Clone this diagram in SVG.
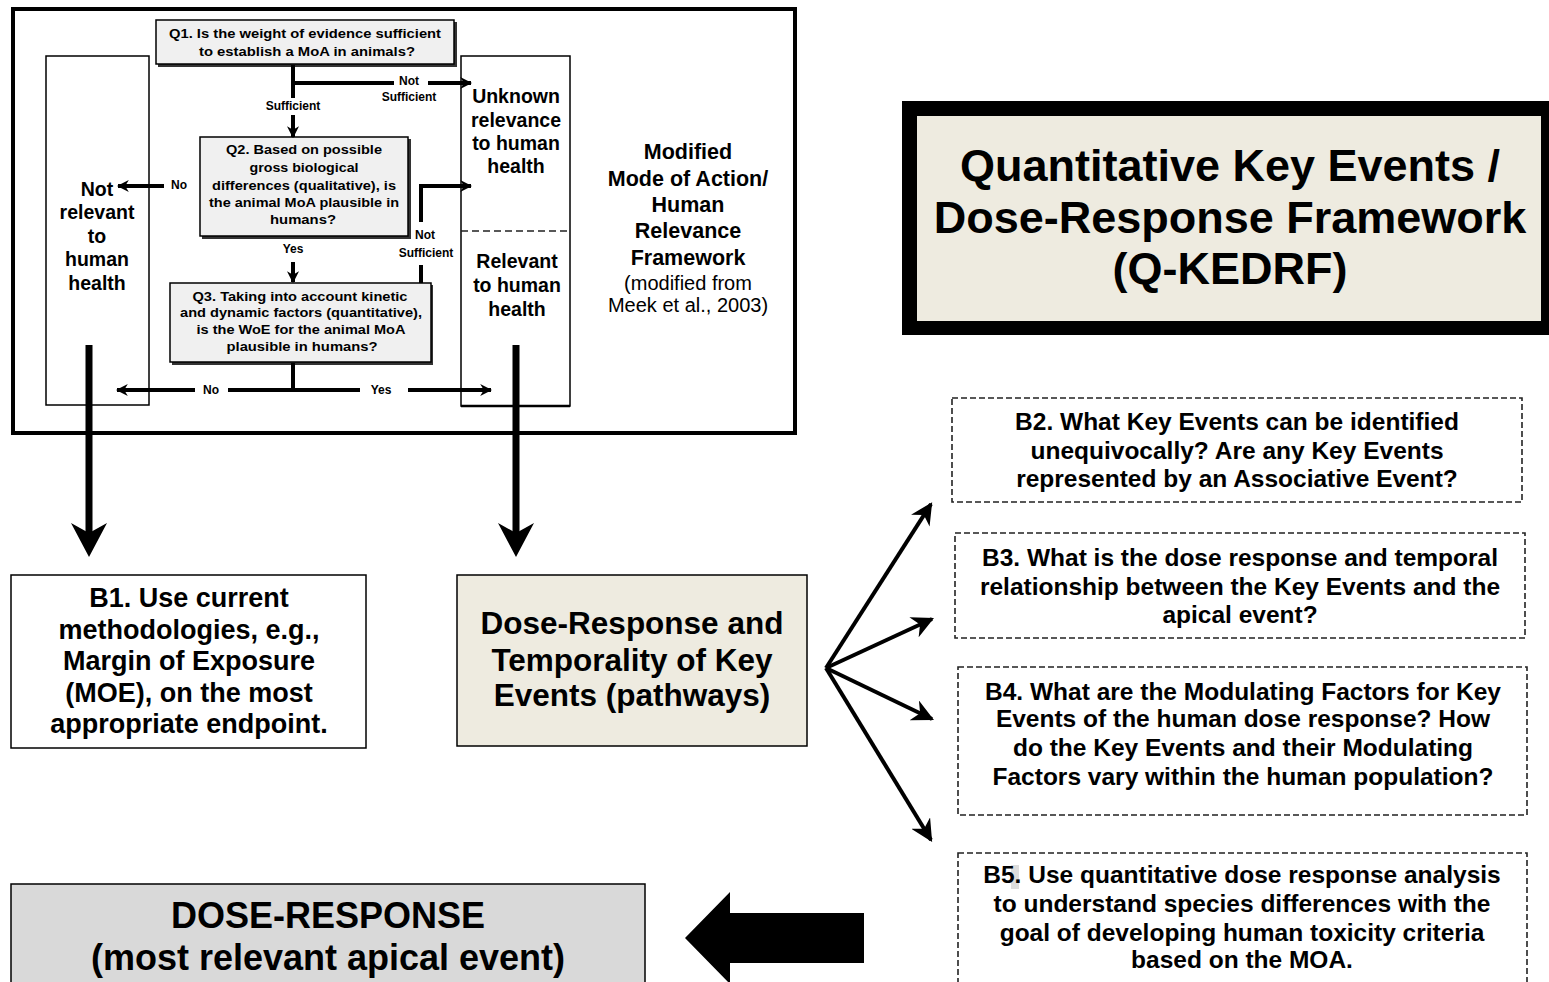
<svg xmlns="http://www.w3.org/2000/svg" width="1549" height="982" viewBox="0 0 1549 982">
<defs>
<style>
text{font-family:"Liberation Sans",Arial,sans-serif;fill:#000;text-anchor:middle}
.b{font-weight:bold}
.q{font-size:12.5px;font-weight:bold}
.lbl{font-size:12px;font-weight:bold}
.col{font-size:19.5px;font-weight:bold}
.bx{font-size:24.5px;font-weight:bold}
.thin{fill:none;stroke:#000;stroke-width:1.5}
.dash{fill:#fff;stroke:#222;stroke-width:1.6;stroke-dasharray:6 3}
.qbox{fill:#f0f0f0;stroke:#000;stroke-width:1.5}
.w{fill:none;stroke:#000;stroke-width:4}
.fan{fill:none;stroke:#000;stroke-width:4}
</style>
<marker id="sa" viewBox="0 0 10 10" refX="9" refY="5" markerWidth="3" markerHeight="3" orient="auto" markerUnits="strokeWidth">
<path d="M0,0 L10,5 L0,10 L3,5 Z" fill="#000"/>
</marker>
<marker id="fa" viewBox="0 0 10 10" refX="9" refY="5" markerWidth="5.5" markerHeight="5.5" orient="auto" markerUnits="strokeWidth">
<path d="M0,0 L10,5 L0,10 L3,5 Z" fill="#000"/>
</marker>
</defs>
<rect width="1549" height="982" fill="#fff"/>

<g id="framework">
<rect x="13" y="9" width="782" height="424" fill="none" stroke="#000" stroke-width="4"/>
</g>

<g id="not-relevant">
<rect class="thin" x="46" y="56" width="103" height="349"/>
<text class="col" x="97" y="196">Not</text>
<text class="col" x="97" y="219">relevant</text>
<text class="col" x="97" y="243">to</text>
<text class="col" x="97" y="266">human</text>
<text class="col" x="97" y="290">health</text>
</g>

<g id="relevance-col">
<rect class="thin" x="461" y="56" width="109" height="350"/>
<line x1="461" y1="406" x2="570" y2="406" stroke="#000" stroke-width="2.5"/>
<line x1="461" y1="231" x2="570" y2="231" stroke="#222" stroke-width="1.5" stroke-dasharray="7 4"/>
<text class="col" x="516" y="103">Unknown</text>
<text class="col" x="516" y="127">relevance</text>
<text class="col" x="516" y="150">to human</text>
<text class="col" x="516" y="173">health</text>
<text class="col" x="517" y="268">Relevant</text>
<text class="col" x="517" y="292">to human</text>
<text class="col" x="517" y="316">health</text>
</g>

<g id="q1">
<rect x="158" y="22" width="299" height="45" fill="#333"/>
<rect class="qbox" x="156" y="20" width="298" height="44"/>
<text class="q" x="305" y="38" textLength="272" lengthAdjust="spacingAndGlyphs">Q1.  Is the weight of evidence sufficient</text>
<text class="q" x="307" y="56" textLength="216" lengthAdjust="spacingAndGlyphs">to establish a MoA in animals?</text>
</g>

<g id="q2">
<rect x="202" y="139" width="209" height="100" fill="#333"/>
<rect class="qbox" x="200" y="137" width="208" height="99"/>
<text class="q" x="304" y="154" textLength="156" lengthAdjust="spacingAndGlyphs">Q2. Based on possible</text>
<text class="q" x="304" y="172" textLength="109" lengthAdjust="spacingAndGlyphs">gross biological</text>
<text class="q" x="304" y="190" textLength="184" lengthAdjust="spacingAndGlyphs">differences (qualitative), is</text>
<text class="q" x="304" y="207" textLength="190" lengthAdjust="spacingAndGlyphs">the animal MoA plausible in</text>
<text class="q" x="303" y="224" textLength="66" lengthAdjust="spacingAndGlyphs">humans?</text>
</g>

<g id="q3">
<rect x="172" y="285" width="261" height="80" fill="#333"/>
<rect class="qbox" x="170" y="283" width="261" height="79"/>
<text class="q" x="300" y="301" textLength="215" lengthAdjust="spacingAndGlyphs">Q3. Taking into account kinetic</text>
<text class="q" x="301" y="317" textLength="242" lengthAdjust="spacingAndGlyphs">and dynamic factors (quantitative),</text>
<text class="q" x="301" y="334" textLength="209" lengthAdjust="spacingAndGlyphs">is the WoE for the animal MoA</text>
<text class="q" x="302" y="351" textLength="151" lengthAdjust="spacingAndGlyphs">plausible in humans?</text>
</g>

<g id="modified-label">
<text class="b" style="font-size:21.5px" x="688" y="159">Modified</text>
<text class="b" style="font-size:21.5px" x="688" y="186">Mode of Action/</text>
<text class="b" style="font-size:21.5px" x="688" y="212">Human</text>
<text class="b" style="font-size:21.5px" x="688" y="238">Relevance</text>
<text class="b" style="font-size:21.5px" x="688" y="265">Framework</text>
<text style="font-size:20px" x="688" y="290">(modified from</text>
<text style="font-size:20px" x="688" y="312">Meek et al., 2003)</text>
</g>

<g id="title">
<rect x="902" y="101" width="647" height="234" fill="#000"/>
<rect x="917" y="116" width="624" height="205" fill="#eeebe0"/>
<text class="b" style="font-size:45px" x="1230" y="181">Quantitative Key Events /</text>
<text class="b" style="font-size:45px" x="1230" y="233">Dose-Response Framework</text>
<text class="b" style="font-size:45px" x="1230" y="284">(Q-KEDRF)</text>
</g>

<g id="b1">
<rect x="11" y="575" width="355" height="173" fill="#fff" stroke="#000" stroke-width="1.5"/>
<text class="b" style="font-size:27px" x="189" y="607">B1.  Use current</text>
<text class="b" style="font-size:27px" x="189" y="639">methodologies, e.g.,</text>
<text class="b" style="font-size:27px" x="189" y="670">Margin of Exposure</text>
<text class="b" style="font-size:27px" x="189" y="702">(MOE), on the most</text>
<text class="b" style="font-size:27px" x="189" y="733">appropriate endpoint.</text>
</g>

<g id="dose-response-kes">
<rect x="457" y="575" width="350" height="171" fill="#eeebe0" stroke="#000" stroke-width="1.5"/>
<text class="b" style="font-size:31.5px" x="632" y="634">Dose-Response and</text>
<text class="b" style="font-size:31.5px" x="632" y="671">Temporality of Key</text>
<text class="b" style="font-size:31.5px" x="632" y="706">Events (pathways)</text>
</g>

<g id="b2">
<rect class="dash" x="952" y="398" width="570" height="104"/>
<text class="bx" x="1237" y="430">B2. What Key Events can be identified</text>
<text class="bx" x="1237" y="459">unequivocally?  Are any Key Events</text>
<text class="bx" x="1237" y="487">represented by an Associative Event?</text>
</g>

<g id="b3">
<rect class="dash" x="955" y="533" width="570" height="105"/>
<text class="bx" x="1240" y="566">B3. What is the dose response and temporal</text>
<text class="bx" x="1240" y="595">relationship between the Key Events and the</text>
<text class="bx" x="1240" y="623">apical event?</text>
</g>

<g id="b4">
<rect class="dash" x="958" y="667" width="569" height="148"/>
<text class="bx" x="1243" y="700">B4. What are the Modulating Factors for Key</text>
<text class="bx" x="1243" y="727">Events of the human dose response?  How</text>
<text class="bx" x="1243" y="756">do the Key Events and their Modulating</text>
<text class="bx" x="1243" y="785">Factors vary within the human population?</text>
</g>

<g id="b5">
<rect class="dash" x="958" y="853" width="569" height="140"/>
<rect x="1011" y="865" width="8" height="24" fill="#ddd"/>
<text class="bx" x="1242" y="883">B5. Use quantitative dose response analysis</text>
<text class="bx" x="1242" y="912">to understand species differences with the</text>
<text class="bx" x="1242" y="941">goal of developing human toxicity criteria</text>
<text class="bx" x="1242" y="968">based on the MOA.</text>
</g>

<g id="dose-response-apical">
<rect x="11" y="884" width="634" height="110" fill="#d9d9d9" stroke="#000" stroke-width="1.5"/>
<text class="b" style="font-size:36px" x="328" y="928">DOSE-RESPONSE</text>
<text class="b" style="font-size:36px" x="328" y="970">(most relevant apical event)</text>
</g>

<g id="connectors">
<line class="w" x1="293" y1="65" x2="293" y2="98"/>
<line class="w" x1="293" y1="115" x2="293" y2="137" marker-end="url(#sa)"/>
<line class="w" x1="291" y1="83" x2="394" y2="83"/>
<line class="w" x1="428" y1="83" x2="471" y2="83" marker-end="url(#sa)"/>
<text class="lbl" x="293" y="110">Sufficient</text>
<text class="lbl" x="409" y="85">Not</text>
<text class="lbl" x="409" y="101">Sufficient</text>

<line class="w" x1="164" y1="186" x2="118" y2="186" marker-end="url(#sa)"/>
<text class="lbl" x="179" y="189">No</text>
<path class="w" d="M421,222 L421,186 L471,186" marker-end="url(#sa)"/>
<text class="lbl" x="425" y="239">Not</text>
<text class="lbl" x="426" y="257">Sufficient</text>
<line class="w" x1="421" y1="265" x2="421" y2="283"/>

<text class="lbl" x="293" y="253">Yes</text>
<line class="w" x1="293" y1="262" x2="293" y2="282" marker-end="url(#sa)"/>

<line class="w" x1="293" y1="363" x2="293" y2="390"/>
<line class="w" x1="295" y1="390" x2="228" y2="390"/>
<line class="w" x1="195" y1="390" x2="117" y2="390" marker-end="url(#sa)"/>
<line class="w" x1="291" y1="390" x2="360" y2="390"/>
<line class="w" x1="408" y1="390" x2="491" y2="390" marker-end="url(#sa)"/>
<text class="lbl" x="211" y="394">No</text>
<text class="lbl" x="381" y="394">Yes</text>

<line x1="89" y1="345" x2="89" y2="535" stroke="#000" stroke-width="7"/>
<polygon points="89,557 71,523 89,533 107,523" fill="#000"/>
<line x1="516" y1="345" x2="516" y2="535" stroke="#000" stroke-width="7"/>
<polygon points="516,557 498,523 516,533 534,523" fill="#000"/>

<line class="fan" x1="826" y1="668" x2="931" y2="504" marker-end="url(#fa)"/>
<line class="fan" x1="826" y1="668" x2="932" y2="619" marker-end="url(#fa)"/>
<line class="fan" x1="826" y1="668" x2="932" y2="719" marker-end="url(#fa)"/>
<line class="fan" x1="826" y1="668" x2="931" y2="840" marker-end="url(#fa)"/>

<polygon points="685,938 730,892 730,913 864,913 864,963 730,963 730,984" fill="#000"/>
</g>
</svg>
